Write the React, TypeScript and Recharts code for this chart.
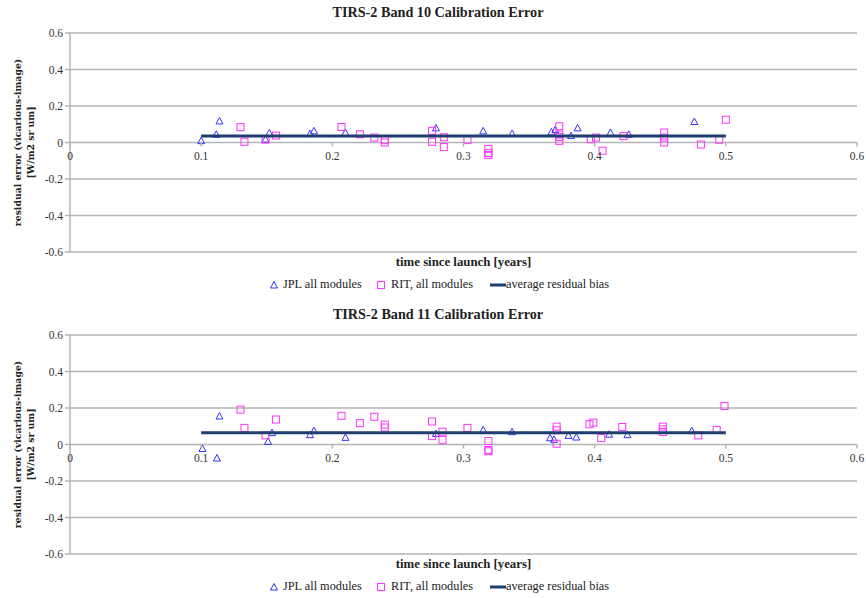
import { ScatterChart, Scatter, XAxis, YAxis, CartesianGrid, Label } from "recharts"

// band 10 - JPL
const jplX10 = [0.1, 0.1115, 0.114, 0.149, 0.152, 0.183, 0.186, 0.21, 0.279, 0.315, 0.337, 0.367, 0.37, 0.382, 0.387, 0.412, 0.426, 0.476]
const jplY10 = [0.01, 0.045, 0.118, 0.018, 0.053, 0.049, 0.064, 0.055, 0.08, 0.064, 0.049, 0.058, 0.071, 0.038, 0.08, 0.055, 0.045, 0.115]
// band 10 - RIT
const ritX10 = [0.13, 0.133, 0.149, 0.157, 0.207, 0.221, 0.232, 0.24, 0.24, 0.276, 0.276, 0.285, 0.285, 0.303, 0.319, 0.319, 0.319, 0.373, 0.373, 0.373, 0.373, 0.397, 0.401, 0.406, 0.422, 0.453, 0.453, 0.453, 0.481, 0.495, 0.5]
const ritY10 = [0.084, 0.004, 0.016, 0.038, 0.085, 0.045, 0.027, 0.013, 0.0, 0.064, 0.004, 0.029, -0.025, 0.013, -0.035, -0.058, -0.068, 0.089, 0.044, 0.03, 0.009, 0.018, 0.027, -0.045, 0.035, 0.055, 0.027, 0.0, -0.011, 0.015, 0.125]
const biasX10 = [0.1, 0.5]
const biasY10 = [0.035, 0.035]

// band 11 - JPL
const jplX11 = [0.101, 0.112, 0.114, 0.151, 0.154, 0.183, 0.186, 0.21, 0.279, 0.315, 0.337, 0.366, 0.369, 0.38, 0.386, 0.411, 0.425, 0.474]
const jplY11 = [-0.022, -0.074, 0.156, 0.017, 0.065, 0.054, 0.076, 0.039, 0.06, 0.08, 0.07, 0.037, 0.028, 0.05, 0.041, 0.056, 0.054, 0.076]
// band 11 - RIT
const ritX11 = [0.13, 0.133, 0.149, 0.157, 0.207, 0.221, 0.232, 0.24, 0.24, 0.276, 0.276, 0.284, 0.284, 0.303, 0.319, 0.319, 0.319, 0.371, 0.371, 0.371, 0.396, 0.399, 0.405, 0.421, 0.452, 0.452, 0.452, 0.479, 0.493, 0.499]
const ritY11 = [0.191, 0.091, 0.05, 0.137, 0.157, 0.117, 0.152, 0.109, 0.093, 0.126, 0.046, 0.07, 0.024, 0.091, 0.019, -0.03, -0.037, 0.098, 0.078, 0.004, 0.111, 0.12, 0.035, 0.096, 0.098, 0.083, 0.069, 0.05, 0.08, 0.211]
const biasX11 = [0.1, 0.5]
const biasY11 = [0.065, 0.065]

const xTicks = [0, 0.1, 0.2, 0.3, 0.4, 0.5, 0.6]
const yTicks = [-0.6, -0.4, -0.2, 0, 0.2, 0.4, 0.6]

const toPts = (xs: number[], ys: number[]) => xs.map((x, i) => ({ x, y: ys[i] }))

const W = 866
const H = 296
const TOP = 33
const PLOT_H = 219
const ZERO_Y = TOP + PLOT_H / 2
const SERIF = "'Liberation Serif', 'DejaVu Serif', serif"
const JPL_COLOR = "#3333ff"
const RIT_COLOR = "#ff33ff"
const BIAS_COLOR = "#1f3d6e"
const GRID = "#b5b5b5"

const Tri = (p: any) => {
  const { cx, cy } = p
  if (cx == null || cy == null) return <g />
  return (
    <polygon
      points={`${cx},${cy - 3.5} ${cx + 3.5},${cy + 3} ${cx - 3.5},${cy + 3}`}
      fill="none"
      stroke={JPL_COLOR}
      strokeWidth={1}
    />
  )
}

const Sq = (p: any) => {
  const { cx, cy } = p
  if (cx == null || cy == null) return <g />
  return <rect x={cx - 3.5} y={cy - 3.5} width={7} height={7} fill="none" stroke={RIT_COLOR} strokeWidth={1} />
}

// x ticks sit on the zero line, not at the bottom of the plot
const XTick = (p: any) => {
  const { x, payload } = p
  return (
    <g>
      <line x1={x} y1={ZERO_Y} x2={x} y2={ZERO_Y + 4} stroke={GRID} strokeWidth={1.5} />
      <text x={x} y={ZERO_Y + 17} textAnchor="middle" fontSize={11.5} fontFamily={SERIF} fill="#333">
        {String(payload.value)}
      </text>
    </g>
  )
}

const XTitle = (p: any) => {
  const vb = p.viewBox || {}
  return (
    <text x={vb.x + vb.width / 2} y={vb.y + 14} textAnchor="middle" fontSize={12.8} fontWeight="bold" fontFamily={SERIF} fill="#222">
      time since launch [years]
    </text>
  )
}

const YTitle = (p: any) => {
  const vb = p.viewBox || {}
  const cy = vb.y + vb.height / 2
  return (
    <g>
      <text transform={`translate(21, ${cy}) rotate(-90)`} textAnchor="middle" fontSize={9.3} fontWeight="bold" fontFamily="'DejaVu Serif', serif" fill="#222">
        residual error (vicarious-image)
      </text>
      <text transform={`translate(34, ${cy}) rotate(-90)`} textAnchor="middle" fontSize={9.3} fontWeight="bold" fontFamily="'DejaVu Serif', serif" fill="#222">
        [W/m2 sr um]
      </text>
    </g>
  )
}

function LegendRow({ top }: { top: number }) {
  const txt = { position: "absolute", top: 0, whiteSpace: "nowrap" } as const
  return (
    <div style={{ position: "absolute", top, left: 0, width: W, height: 16, fontFamily: SERIF, fontSize: 12.3, color: "#222" }}>
      <svg width={10} height={10} style={{ position: "absolute", left: 269, top: 3 }}>
        <polygon points="5,1.5 8.5,8 1.5,8" fill="none" stroke={JPL_COLOR} />
      </svg>
      <span style={{ ...txt, left: 283 }}>JPL all modules</span>
      <svg width={10} height={10} style={{ position: "absolute", left: 376, top: 3 }}>
        <rect x={1.5} y={1.5} width={7} height={7} fill="none" stroke={RIT_COLOR} />
      </svg>
      <span style={{ ...txt, left: 391 }}>RIT, all modules</span>
      <svg width={16} height={10} style={{ position: "absolute", left: 490, top: 3 }}>
        <line x1={0} y1={5} x2={16} y2={5} stroke={BIAS_COLOR} strokeWidth={3} />
      </svg>
      <span style={{ ...txt, left: 506 }}>average residual bias</span>
    </div>
  )
}

function Panel({ title, top, jpl, rit, bias }: { title: string; top: number; jpl: any[]; rit: any[]; bias: any[] }) {
  return (
    <div style={{ position: "absolute", top, left: 0, width: W, height: H }}>
      <div
        style={{
          position: "absolute",
          top: 4,
          left: 0,
          width: 876,
          textAlign: "center",
          fontFamily: SERIF,
          fontWeight: "bold",
          fontSize: 14.2,
          color: "#222",
        }}
      >
        {title}
      </div>
      <ScatterChart width={W} height={H} margin={{ top: TOP, right: 9, bottom: 24, left: 0 }}>
        <CartesianGrid vertical={false} stroke={GRID} strokeWidth={1.5} />
        <XAxis
          type="number"
          dataKey="x"
          domain={[0, 0.6]}
          ticks={xTicks}
          interval={0}
          axisLine={false}
          tickLine={false}
          tick={<XTick />}
          height={20}
        >
          <Label content={<XTitle />} />
        </XAxis>
        <YAxis
          type="number"
          dataKey="y"
          domain={[-0.6, 0.6]}
          ticks={yTicks}
          interval={0}
          width={70}
          axisLine={{ stroke: GRID, strokeWidth: 1.5 }}
          tickLine={{ stroke: GRID, strokeWidth: 1.5 }}
          tickSize={5}
          tickFormatter={(v: number) => String(v)}
          tick={{ fontSize: 11.5, fontFamily: SERIF, fill: "#333" }}
        >
          <Label content={<YTitle />} />
        </YAxis>
        <Scatter name="JPL all modules" data={jpl} shape={<Tri />} isAnimationActive={false} />
        <Scatter name="RIT, all modules" data={rit} shape={<Sq />} isAnimationActive={false} />
        <Scatter
          name="average residual bias"
          data={bias}
          line={{ stroke: BIAS_COLOR, strokeWidth: 3 }}
          shape={() => <g />}
          isAnimationActive={false}
        />
      </ScatterChart>
      <LegendRow top={277} />
    </div>
  )
}

export default function App() {
  return (
    <div style={{ position: "absolute", top: 0, left: 0, width: W, height: 598, background: "#fff" }}>
      <Panel
        title="TIRS-2 Band 10 Calibration Error"
        top={0}
        jpl={toPts(jplX10, jplY10)}
        rit={toPts(ritX10, ritY10)}
        bias={toPts(biasX10, biasY10)}
      />
      <Panel
        title="TIRS-2 Band 11 Calibration Error"
        top={302}
        jpl={toPts(jplX11, jplY11)}
        rit={toPts(ritX11, ritY11)}
        bias={toPts(biasX11, biasY11)}
      />
    </div>
  )
}
